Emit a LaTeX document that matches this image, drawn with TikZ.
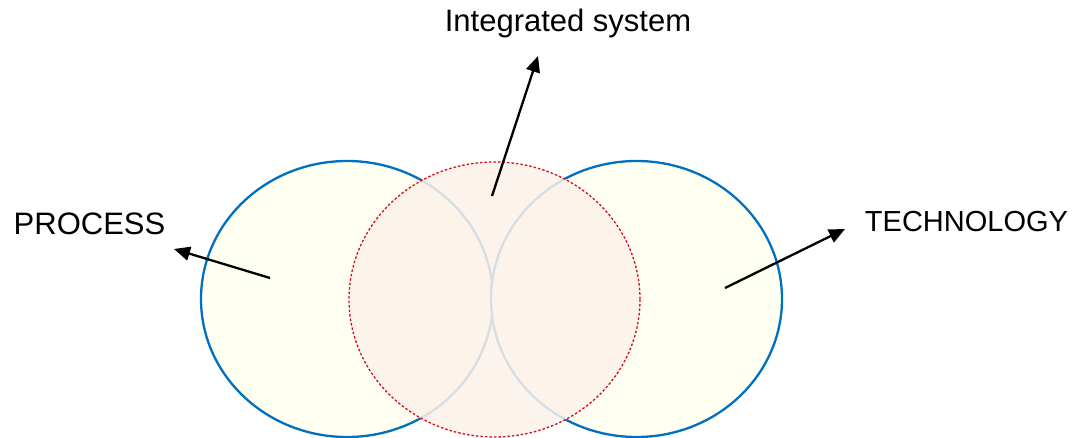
\documentclass[tikz,border=0pt]{standalone}
\usepackage{fontspec}
\setmainfont{Liberation Sans}
\usetikzlibrary{arrows.meta}
\definecolor{ringblue}{HTML}{0070C0}
\definecolor{softyellow}{HTML}{FFFFF2}
\definecolor{softpink}{HTML}{FCF2EA}
\definecolor{dashred}{HTML}{D0101A}
\tikzset{
  sidering/.style={draw=ringblue, line width=2.3pt, fill=softyellow},
  midring/.style={draw=dashred, line width=1.3pt, dash pattern=on 2.5pt off 2pt, fill=softpink, fill opacity=0.85},
  pointer/.style={draw=black, line width=2.3pt, -{Triangle[length=16pt,width=14pt]}},
  label/.style={font=\fontsize{31}{36}\selectfont, inner sep=0pt, anchor=base}
}
\begin{document}
\begin{tikzpicture}[x=1pt,y=-1pt]
\useasboundingbox (0,0) rectangle (1075,438);
\fill[white] (0,0) rectangle (1075,438);
\draw[sidering] (347,299) ellipse [x radius=146, y radius=138];
\draw[sidering] (636.5,299) ellipse [x radius=145.5, y radius=138];
\draw[midring] (494.5,299.5) ellipse [x radius=145.5, y radius=137.5];
\node[label] (proc) at (89.5,234) {PROCESS};
\node[label, font=\fontsize{29}{34}\selectfont] (tech) at (966.5,232) {TECHNOLOGY};
\node[label] (integ) at (568,31.5) {Integrated system};
\coordinate (ptail) at (270,278);
\coordinate (ptip) at (174,249);
\coordinate (ttail) at (725,288);
\coordinate (ttip) at (845,229);
\coordinate (itail) at (492,196);
\coordinate (itip) at (538,56);
\draw[pointer] (ptail) -- (ptip);
\draw[pointer] (ttail) -- (ttip);
\draw[pointer] (itail) -- (itip);
\end{tikzpicture}
\end{document}
